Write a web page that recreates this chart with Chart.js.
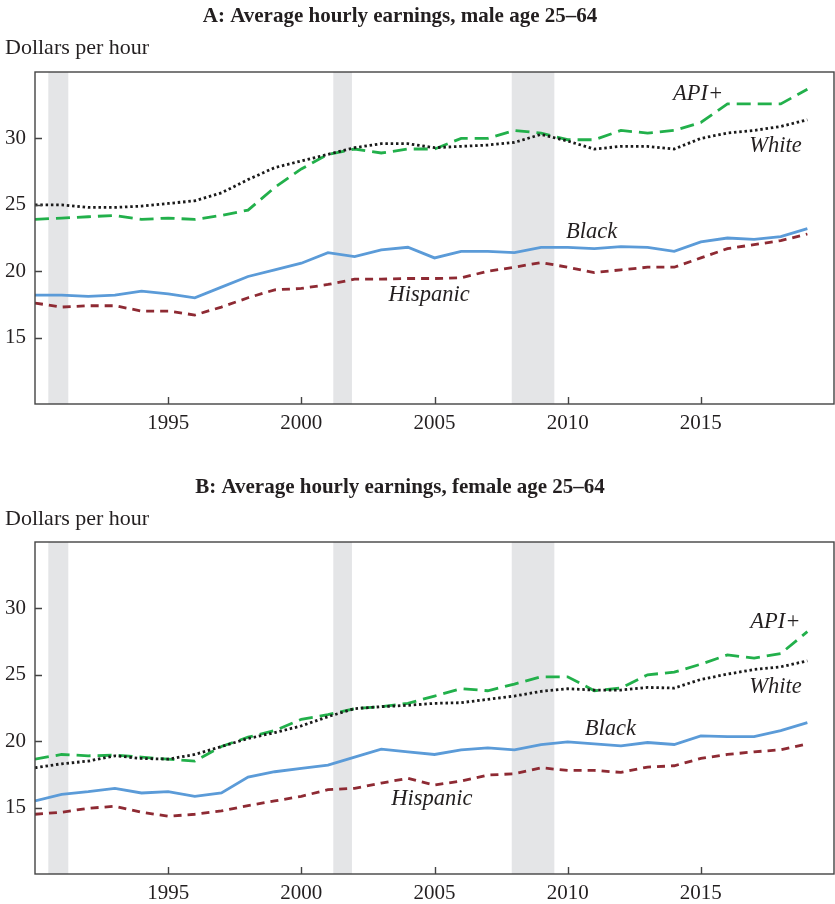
<!DOCTYPE html>
<html>
<head>
<meta charset="utf-8">
<title>Average hourly earnings</title>
<script src="https://cdn.jsdelivr.net/npm/chart.js@4.4.1/dist/chart.umd.min.js"></script>
<style>
  html, body { margin: 0; padding: 0; background: #fff; }
  canvas { display: block; }
</style>
</head>
<body>
<canvas id="male" width="835" height="452"></canvas>
<canvas id="female" width="835" height="452"></canvas>
<script>
// --- Data ---
const years = [1990, 1991, 1992, 1993, 1994, 1995, 1996, 1997, 1998, 1999,
               2000, 2001, 2002, 2003, 2004, 2005, 2006, 2007, 2008, 2009,
               2010, 2011, 2012, 2013, 2014, 2015, 2016, 2017, 2018, 2019];

// NBER recessions (start, end as fractional years)
const recessions = [[1990.5, 1991.25], [2001.2, 2001.9], [2007.9, 2009.5]];

const yTicks = [15, 20, 25, 30];
const xTicks = [1995, 2000, 2005, 2010, 2015];

// Panel A: men 25-64
const maleApi = [23.9, 24.0, 24.1, 24.2, 23.9, 24.0, 23.9, 24.2, 24.6, 26.3,
                 27.7, 28.8, 29.2, 28.9, 29.2, 29.2, 30.0, 30.0, 30.6, 30.4,
                 29.9, 29.9, 30.6, 30.4, 30.6, 31.2, 32.6, 32.6, 32.6, 33.7];
const maleWhite = [25.0, 25.0, 24.8, 24.8, 24.9, 25.1, 25.3, 25.9, 26.9, 27.8,
                   28.3, 28.8, 29.3, 29.6, 29.6, 29.3, 29.4, 29.5, 29.7, 30.3,
                   29.8, 29.2, 29.4, 29.4, 29.2, 30.0, 30.4, 30.6, 30.9, 31.4];
const maleBlack = [18.2, 18.2, 18.1, 18.2, 18.5, 18.3, 18.0, 18.8, 19.6, 20.1,
                   20.6, 21.4, 21.1, 21.6, 21.8, 21.0, 21.5, 21.5, 21.4, 21.8,
                   21.8, 21.7, 21.85, 21.8, 21.5, 22.2, 22.5, 22.4, 22.6, 23.2];
const maleHisp = [17.6, 17.3, 17.4, 17.4, 17.0, 17.0, 16.7, 17.3, 18.0, 18.6,
                  18.7, 19.0, 19.4, 19.4, 19.45, 19.45, 19.5, 20.0, 20.3, 20.65,
                  20.3, 19.9, 20.1, 20.3, 20.3, 21.0, 21.7, 22.0, 22.3, 22.8];

// Panel B: women 25-64
const femaleApi = [18.65, 19.0, 18.9, 18.95, 18.8, 18.65, 18.5, 19.6, 20.3, 20.8,
                   21.65, 22.0, 22.45, 22.6, 22.85, 23.4, 23.95, 23.8, 24.3, 24.85,
                   24.85, 23.8, 24.0, 25.0, 25.2, 25.8, 26.5, 26.25, 26.6, 28.25];
const femaleWhite = [18.0, 18.3, 18.5, 18.9, 18.7, 18.65, 19.0, 19.6, 20.2, 20.65,
                     21.15, 21.85, 22.45, 22.6, 22.7, 22.85, 22.9, 23.15, 23.4, 23.75,
                     23.95, 23.85, 23.85, 24.05, 24.0, 24.65, 25.05, 25.4, 25.6, 26.05];
const femaleBlack = [15.5, 16.0, 16.2, 16.45, 16.1, 16.2, 15.85, 16.1, 17.3, 17.7,
                     17.95, 18.2, 18.8, 19.4, 19.2, 19.0, 19.35, 19.5, 19.35, 19.75,
                     19.95, 19.8, 19.65, 19.9, 19.75, 20.4, 20.35, 20.35, 20.8, 21.4];
const femaleHisp = [14.5, 14.65, 14.95, 15.1, 14.65, 14.35, 14.5, 14.75, 15.15, 15.5,
                    15.85, 16.35, 16.45, 16.85, 17.2, 16.7, 17.0, 17.45, 17.55, 18.0,
                    17.8, 17.8, 17.65, 18.05, 18.15, 18.7, 19.0, 19.2, 19.35, 19.8];

// --- Styles ---
const serif = '"Liberation Serif", "Times New Roman", serif';
const ink = '#231f20';
const styles = {
  api:   { label: 'API+',     color: '#22b04b', dash: [14, 7] },
  white: { label: 'White',    color: '#1a1a1a', dash: [2.5, 2.8] },
  black: { label: 'Black',    color: '#5b9bd8', dash: [] },
  hisp:  { label: 'Hispanic', color: '#8e2a33', dash: [8, 6] }
};

function series(key, values) {
  const s = styles[key];
  return {
    label: s.label,
    data: years.map((yr, i) => ({ x: yr, y: values[i] })),
    borderColor: s.color,
    borderDash: s.dash,
    borderWidth: 2.8,
    pointRadius: 0,
    tension: 0,
    fill: false
  };
}

// Recession shading, box, inward tick marks and text annotations
const decor = {
  id: 'decor',
  beforeDatasetsDraw(chart, args, opts) {
    const { ctx, chartArea: a, scales: { x } } = chart;
    ctx.save();
    ctx.fillStyle = '#e4e5e7';
    recessions.forEach(([s, e]) => {
      const x0 = x.getPixelForValue(s);
      const x1 = x.getPixelForValue(e);
      ctx.fillRect(x0, a.top, x1 - x0, a.bottom - a.top);
    });
    ctx.restore();
  },
  afterDraw(chart, args, opts) {
    const { ctx, chartArea: a, scales: { x, y } } = chart;
    ctx.save();
    ctx.strokeStyle = '#444';
    ctx.lineWidth = 1.4;
    ctx.strokeRect(a.left, a.top, a.right - a.left, a.bottom - a.top);
    ctx.beginPath();
    yTicks.forEach(v => {
      const py = Math.round(y.getPixelForValue(v)) + 0.5;
      ctx.moveTo(a.left, py);
      ctx.lineTo(a.left + 7, py);
    });
    xTicks.forEach(v => {
      const px = Math.round(x.getPixelForValue(v)) + 0.5;
      ctx.moveTo(px, a.bottom);
      ctx.lineTo(px, a.bottom - 7);
    });
    ctx.stroke();

    ctx.fillStyle = ink;
    ctx.textBaseline = 'middle';
    ctx.font = 'bold 21px ' + serif;
    ctx.textAlign = 'center';
    ctx.fillText(opts.title, 400, opts.titleY);
    ctx.font = '22px ' + serif;
    ctx.textAlign = 'left';
    ctx.fillText('Dollars per hour', 5, opts.unitY);

    ctx.font = 'italic 22.5px ' + serif;
    ctx.textAlign = 'center';
    opts.labels.forEach(([text, vx, vy]) => {
      ctx.fillText(text, x.getPixelForValue(vx), y.getPixelForValue(vy));
    });
    ctx.restore();
  }
};

function buildChart(id, data, panel) {
  return new Chart(document.getElementById(id), {
    type: 'line',
    data: {
      datasets: [
        series('hisp', data.hisp),
        series('black', data.black),
        series('white', data.white),
        series('api', data.api)
      ]
    },
    options: {
      responsive: false,
      animation: false,
      layout: { padding: { top: panel.top, right: 1, left: 0, bottom: 0 } },
      scales: {
        x: {
          type: 'linear',
          min: 1990,
          max: 2020,
          grid: { display: false, drawTicks: false },
          border: { display: false },
          afterBuildTicks: s => { s.ticks = xTicks.map(v => ({ value: v })); },
          afterFit: s => { s.height = panel.axisHeight; },
          ticks: {
            padding: 7,
            color: ink,
            font: { family: serif, size: 21 },
            callback: v => String(v)
          }
        },
        y: {
          min: 10,
          max: 35,
          grid: { display: false, drawTicks: false },
          border: { display: false },
          afterBuildTicks: s => { s.ticks = yTicks.map(v => ({ value: v })); },
          afterFit: s => { s.width = 35; },
          ticks: {
            padding: 9,
            color: ink,
            font: { family: serif, size: 21 }
          }
        }
      },
      plugins: {
        legend: { display: false },
        tooltip: { enabled: false },
        decor: {
          title: panel.title,
          titleY: panel.titleY,
          unitY: panel.unitY,
          labels: panel.labels
        }
      }
    },
    plugins: [decor]
  });
}

buildChart('male',
  { api: maleApi, white: maleWhite, black: maleBlack, hisp: maleHisp },
  {
    title: 'A: Average hourly earnings, male age 25\u201364',
    titleY: 17, unitY: 48, top: 72, axisHeight: 48,
    labels: [['API+', 2014.9, 33.3], ['White', 2017.8, 29.4],
             ['Black', 2010.9, 22.95], ['Hispanic', 2004.8, 18.2]]
  });

buildChart('female',
  { api: femaleApi, white: femaleWhite, black: femaleBlack, hisp: femaleHisp },
  {
    title: 'B: Average hourly earnings, female age 25\u201364',
    titleY: 36, unitY: 67, top: 90, axisHeight: 30,
    labels: [['API+', 2017.8, 28.95], ['White', 2017.8, 24.05],
             ['Black', 2011.6, 20.9], ['Hispanic', 2004.9, 15.65]]
  });
</script>
</body>
</html>
